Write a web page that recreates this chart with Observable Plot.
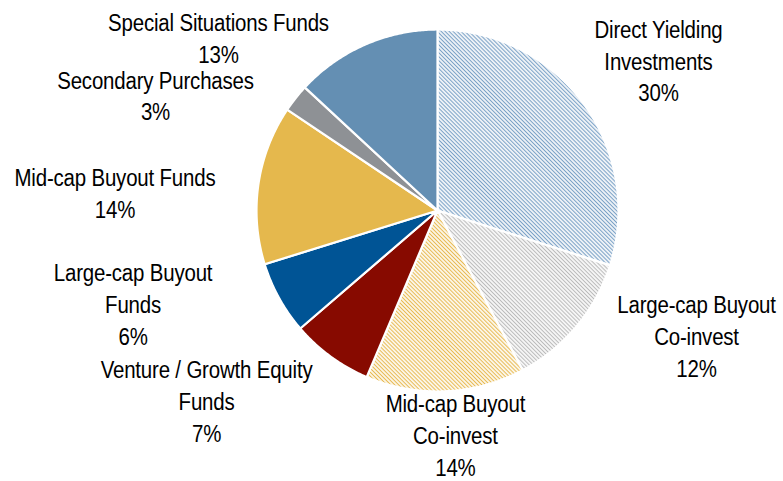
<!DOCTYPE html>
<html><head><meta charset="utf-8">
<script src="https://cdn.jsdelivr.net/npm/d3@7"></script>
<script src="https://cdn.jsdelivr.net/npm/@observablehq/plot@0.6"></script>
<style>
html,body{margin:0;padding:0;background:#fff;}
#chart svg{display:block;}
</style></head><body><div id="chart"></div>
<script>
// ---- data (clockwise from 12 o'clock) ----
const categories = [
  "Direct Yielding Investments",
  "Large-cap Buyout Co-invest",
  "Mid-cap Buyout Co-invest",
  "Venture / Growth Equity Funds",
  "Large-cap Buyout Funds",
  "Mid-cap Buyout Funds",
  "Secondary Purchases",
  "Special Situations Funds"
];
const values = [29.9, 12.3, 14.2, 7.3, 6.5, 14.2, 2.5, 13.1];
const percentLabels = ["30%", "12%", "14%", "7%", "6%", "14%", "3%", "13%"];
const labelText = [
  "Direct Yielding\nInvestments",
  "Large-cap Buyout\nCo-invest",
  "Mid-cap Buyout\nCo-invest",
  "Venture / Growth Equity\nFunds",
  "Large-cap Buyout\nFunds",
  "Mid-cap Buyout Funds",
  "Secondary Purchases",
  "Special Situations Funds"
];

// ---- styles / layout ----
const sliceFills = [
  "url(#hatchBlue)", "url(#hatchGray)", "url(#hatchGold)",
  "#870A00", "#005495", "#E5B84D", "#8E9195", "#648FB3"
];
// label anchor (centre x, first baseline y), in pie-radius units relative to the pie centre
const labelPos = [
  [1.221, -0.953], [1.431, 0.569], [0.099, 1.116], [-1.276, 0.928],
  [-1.682, 0.392], [-1.782, -0.133], [-1.558, -0.674], [-1.210, -0.989]
];

const W = 783, H = 481, CX = 437, CY = 210, R = 181;
const FS = 23.5, LH = 31.7;

// ---- build slice polygons from the data ----
const arcs = d3.pie().sort(null).value(d => d)(values);
const polys = [];
arcs.forEach((a, i) => {
  const n = Math.max(2, Math.ceil((a.endAngle - a.startAngle) / (Math.PI / 360)));
  polys.push({name: categories[i], fill: sliceFills[i], x: 0, y: 0});
  for (let k = 0; k <= n; k++) {
    const t = a.startAngle + (a.endAngle - a.startAngle) * k / n;
    polys.push({name: categories[i], fill: sliceFills[i], x: Math.sin(t), y: -Math.cos(t)});
  }
  polys.push({name: categories[i], fill: sliceFills[i], x: 0, y: 0});
});

const labels = categories.map((c, i) => ({
  name: c,
  text: labelText[i] + "\n" + percentLabels[i],
  x: labelPos[i][0],
  y: labelPos[i][1] - 0.71 * LH / R
}));

const plot = Plot.plot({
  width: W,
  height: H,
  margin: 0,
  x: {domain: [-CX / R, (W - CX) / R], range: [0, W], axis: null},
  y: {domain: [-CY / R, (H - CY) / R], range: [0, H], axis: null},
  color: {type: "identity"},
  style: {fontFamily: "'Liberation Sans', Arial, sans-serif", letterSpacing: "-0.2px", background: "#fff"},
  marks: [
    Plot.line(polys, {x: "x", y: "y", z: "name", fill: "fill", stroke: "#fff", strokeWidth: 2.2, strokeLinejoin: "round", curve: "linear"}),
    Plot.text(labels, {x: "x", y: "y", text: "text", textAnchor: "middle", lineAnchor: "top", lineHeight: LH / FS, fontSize: FS, fill: "#000"})
  ]
});

// condensed label look
plot.querySelectorAll("text").forEach(t => {
  const tr = t.getAttribute("transform") || "";
  t.setAttribute("transform", tr + " scale(0.87,1)");
});

// hatch patterns
const defs = d3.select(plot).insert("defs", ":first-child");
[["hatchBlue", "#7AA1C6"], ["hatchGray", "#BBBBBB"], ["hatchGold", "#E8BA52"]].forEach(([id, col]) => {
  const p = defs.append("pattern").attr("id", id).attr("patternUnits", "userSpaceOnUse")
    .attr("width", 2.8).attr("height", 2.8).attr("patternTransform", "rotate(-45)");
  p.append("rect").attr("width", 2.8).attr("height", 2.8).attr("fill", "#fff");
  p.append("line").attr("x1", 1.4).attr("y1", -1).attr("x2", 1.4).attr("y2", 4).attr("stroke", col).attr("stroke-width", 1.2);
});

document.getElementById("chart").appendChild(plot);
</script>
</body></html>
